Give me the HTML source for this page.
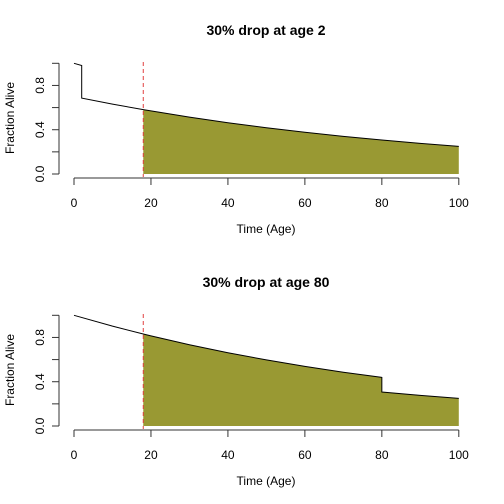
<!DOCTYPE html>
<html><head><meta charset="utf-8"><style>
body{margin:0;background:#fff;}
svg{display:block;font-family:"Liberation Sans",sans-serif;}
</style></head><body>
<svg id="c" width="504" height="504"></svg>
<script>
const ages1 = [0, 2, 2, 10, 18, 20, 30, 40, 50, 60, 70, 80, 90, 100];
const surv1 = [1, 0.98, 0.686, 0.631, 0.582, 0.570, 0.514, 0.463, 0.418, 0.377, 0.340, 0.307, 0.277, 0.250];
const ages2 = [0, 10, 18, 20, 30, 40, 50, 60, 70, 80, 80, 90, 100];
const surv2 = [1, 0.902, 0.831, 0.814, 0.734, 0.662, 0.597, 0.539, 0.486, 0.439, 0.307, 0.277, 0.250];
const titles = ["30% drop at age 2", "30% drop at age 80"];
const xTicks = [0, 20, 40, 60, 80, 100];
const yTicks = [0, 0.2, 0.4, 0.6, 0.8, 1.0];
const yTickLabels = ["0.0", "", "0.4", "", "0.8", ""];
const cutoffAge = 18;

const svg = document.getElementById('c');
const NS = "http://www.w3.org/2000/svg";
function mk(tag, attrs, parent) {
  const e = document.createElementNS(NS, tag);
  for (const k in attrs) e.setAttribute(k, attrs[k]);
  (parent || svg).appendChild(e);
  return e;
}
function panel(idx, ages, surv) {
  const off = idx * 252;
  const g = mk('g', {});
  
  
  const X = a => 74 + a * 3.848;
  const Y = v => off + 174 - v * 110.7;
  // fill
  const pts = [];
  for (let i = 0; i < ages.length; i++) {
    if (ages[i] >= cutoffAge) pts.push(X(ages[i]) + ',' + Y(surv[i]));
  }
  pts.push(X(100) + ',' + Y(0));
  pts.push(X(cutoffAge) + ',' + Y(0));
  const fill = mk('polygon', {points: pts.join(' '), fill: '#999933'}, g);
  
  
  // line
  const lp = ages.map((a, i) => X(a) + ',' + Y(surv[i])).join(' ');
  const line = mk('polyline', {points: lp, fill: 'none', stroke: '#000', 'stroke-width': 1}, g);
  
  
  // cutoff
  const cl = mk('line', {x1: X(cutoffAge), x2: X(cutoffAge), y1: off + 62, y2: off + 177, stroke: '#e04040', 'stroke-dasharray': '4,3', 'stroke-width': 1}, g);
  
  
  // x axis
  const xa = mk('line', {x1: X(0), x2: X(100), y1: off + 178, y2: off + 178, stroke: '#333'}, g);
  
  
  xTicks.forEach(t => {
    mk('line', {x1: X(t), x2: X(t), y1: off + 178, y2: off + 185, stroke: '#333'}, g);
    const tx = mk('text', {x: X(t), y: off + 207, 'text-anchor': 'middle', 'font-size': 12}, g);
    tx.textContent = t;
    
    
  });
  // y axis
  const ya = mk('line', {x1: 59, x2: 59, y1: Y(0), y2: Y(1), stroke: '#333'}, g);
  
  
  yTicks.forEach((t, i) => {
    mk('line', {x1: 52, x2: 59, y1: Y(t), y2: Y(t), stroke: '#333'}, g);
    if (yTickLabels[i]) {
      const tx = mk('text', {x: 0, y: 0, transform: 'translate(44,' + Y(t) + ') rotate(-90)', 'text-anchor': 'middle', 'font-size': 12}, g);
      tx.textContent = yTickLabels[i];
      
      
    }
  });
  const yl = mk('text', {x: 0, y: 0, transform: 'translate(14,' + (off + 118) + ') rotate(-90)', 'text-anchor': 'middle', 'font-size': 12}, g);
  yl.textContent = 'Fraction Alive';
  
  
  const xl = mk('text', {x: 266, y: off + 233, 'text-anchor': 'middle', 'font-size': 12}, g);
  xl.textContent = 'Time (Age)';
  
  
  const ti = mk('text', {x: 266, y: off + 35, 'text-anchor': 'middle', 'font-size': 14, 'font-weight': 'bold'}, g);
  ti.textContent = titles[idx];
  
  
}
panel(0, ages1, surv1);
panel(1, ages2, surv2);
</script>
</body></html>
